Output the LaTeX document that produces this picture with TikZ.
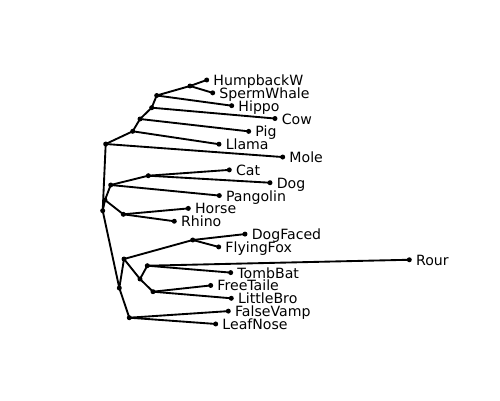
\documentclass[tikz,border=0pt]{standalone}
\usepackage{fontspec}
\setmainfont{DejaVu Sans}
\begin{document}
\begin{tikzpicture}[x=0.01in,y=-0.01in,
  dot/.style={circle,fill=black,inner sep=0pt,minimum size=3.6pt},
  lbl/.style={anchor=base west,inner sep=0pt,font=\fontsize{10.2pt}{12pt}\selectfont,xshift=4.7pt,yshift=-4pt},
  edge/.style={line width=1.35pt,black}]
\useasboundingbox (0,0) rectangle (500,400);
% leaves
\foreach \n/\x/\i in {HumpbackW/206.7/0, SpermWhale/212.7/1, Hippo/231.7/2, Cow/275/3, Pig/248.7/4, Llama/219/5, Mole/282.7/6, Cat/229.3/7, Dog/270/8, Pangolin/219.3/9, Horse/188.3/10, Rhino/174.3/11, DogFaced/245/12, FlyingFox/218.7/13, Rour/409.3/14, TombBat/230.7/15, FreeTaile/210.7/16, LittleBro/231.3/17, FalseVamp/228.3/18, LeafNose/215.7/19}{
  \node[dot] (\n) at (\x,{80+12.84*\i}) {};
  \node[lbl] (t\n) at (\n.center) {\n};
}
% internal nodes
\node[dot] (whale) at (190,86) {};
\node[dot] (na) at (156.7,95.5) {};
\node[dot] (nb) at (151.7,107.7) {};
\node[dot] (nc) at (140,119) {};
\node[dot] (nd) at (132.7,131.3) {};
\node[dot] (ne) at (105.7,144) {};
\node[dot] (catdog) at (148.3,175.7) {};
\node[dot] (nf) at (110.7,185) {};
\node[dot] (hr) at (123.3,214.3) {};
\node[dot] (ng) at (105,200) {};
\node[dot] (root) at (102.7,210.7) {};
\node[dot] (mega) at (192.7,240) {};
\node[dot] (rt) at (147.3,265.7) {};
\node[dot] (fl) at (153,291.7) {};
\node[dot] (ni) at (140,279) {};
\node[dot] (nh) at (124,259) {};
\node[dot] (nk) at (129.3,317.7) {};
\node[dot] (nj) at (119.3,288) {};
% edges
\foreach \p/\c in {whale/HumpbackW, whale/SpermWhale, na/whale, na/Hippo, nb/na, nb/Cow, nc/nb, nc/Pig, nd/nc, nd/Llama, ne/nd, ne/Mole,
  catdog/Cat, catdog/Dog, nf/catdog, nf/Pangolin, hr/Horse, hr/Rhino, ng/nf, ng/hr,
  root/ne, root/ng, root/nj,
  mega/DogFaced, mega/FlyingFox, rt/Rour, rt/TombBat, fl/FreeTaile, fl/LittleBro, ni/rt, ni/fl, nh/mega, nh/ni,
  nk/FalseVamp, nk/LeafNose, nj/nh, nj/nk}{
  \draw[edge] (\p.center) -- (\c.center);
}
\end{tikzpicture}
\end{document}
